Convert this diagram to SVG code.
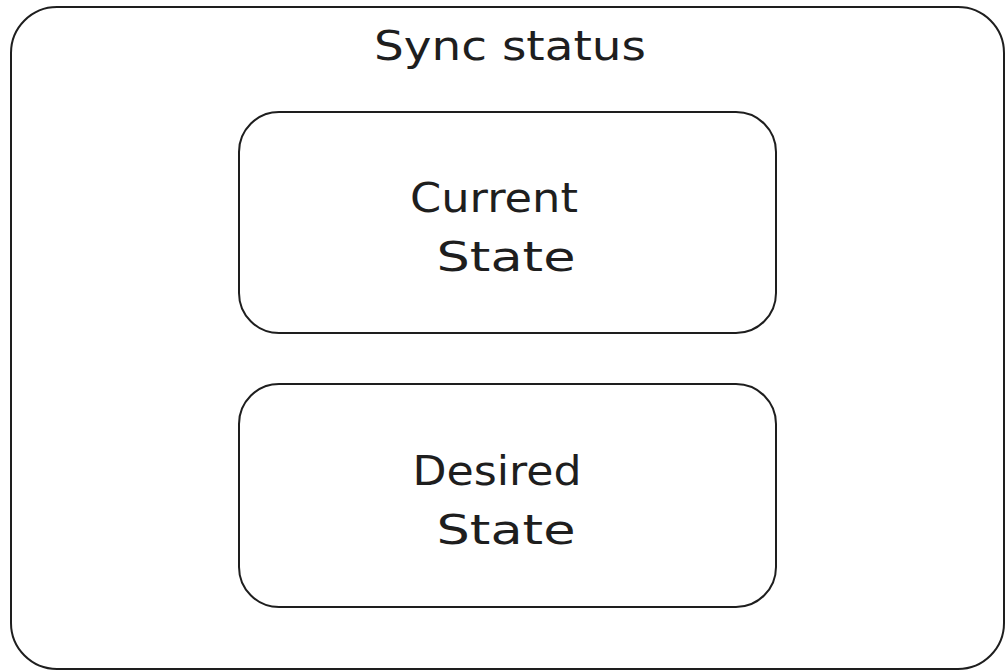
<svg xmlns="http://www.w3.org/2000/svg" width="1006" height="672" viewBox="0 0 1006 672">
<style>
.box{fill:#ffffff;stroke:#1e1e1e;stroke-width:2;}
.lbl{font-family:"DejaVu Sans","Liberation Sans",sans-serif;font-size:40px;fill:#1e1e1e;text-anchor:middle;}
</style>
<rect width="1006" height="672" fill="#ffffff"/>
<g id="sync-status">
<rect class="box" x="11" y="7" width="993" height="662" rx="46" ry="46"/>
<text class="lbl" x="510" y="60" textLength="272" lengthAdjust="spacingAndGlyphs">Sync status</text>
</g>
<g id="current-state">
<rect class="box" x="239" y="112" width="537" height="221" rx="40" ry="40"/>
<text class="lbl" x="494" y="212" textLength="168" lengthAdjust="spacingAndGlyphs">Current</text>
<text class="lbl" x="506" y="271" textLength="139" lengthAdjust="spacingAndGlyphs">State</text>
</g>
<g id="desired-state">
<rect class="box" x="239" y="384" width="537" height="223" rx="40" ry="40"/>
<text class="lbl" x="497" y="485" textLength="169" lengthAdjust="spacingAndGlyphs">Desired</text>
<text class="lbl" x="506" y="544" textLength="139" lengthAdjust="spacingAndGlyphs">State</text>
</g>
<g id="connectors"></g>
</svg>
